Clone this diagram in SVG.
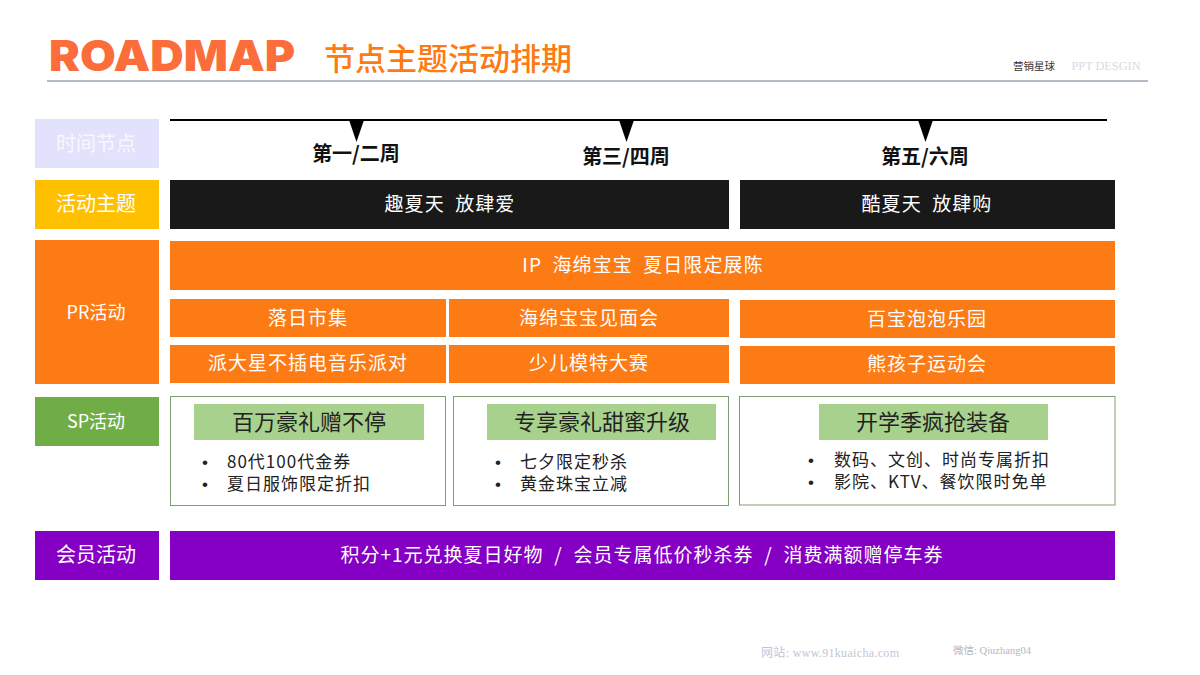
<svg xmlns="http://www.w3.org/2000/svg" width="1200" height="675" viewBox="0 0 1200 675">
<style>
text{font-family:"Noto Sans CJK SC","Noto Sans",sans-serif;text-anchor:middle}
.w{fill:#fff;font-size:19px;letter-spacing:1px}
.t{font-size:19px;letter-spacing:1.100px;word-spacing:5px}
.lab{fill:#fff;font-size:20px}
.wk{fill:#111;font-size:20px;font-weight:700}
.o{fill:#fd7b14}.k{fill:#191919}
.box{fill:#fff;stroke:#7f9f72;stroke-width:1}
.hd{fill:#a9d18e}
.ht{fill:#222;font-size:22px}
.li{fill:#222;font-size:17px;text-anchor:start;letter-spacing:1px}
.bu{font-family:"Liberation Sans",sans-serif;font-size:17px;letter-spacing:0}
</style>
<rect width="1200" height="675" fill="#fff"/>
<g id="header">
<text x="172" y="71" style="font-family:'Inter','Liberation Sans',sans-serif;font-weight:900;font-size:43px" fill="#fb6d3a" textLength="246" lengthAdjust="spacingAndGlyphs">ROADMAP</text>
<text x="448" y="70" font-size="31" fill="#fd7b14" font-weight="500">节点主题活动排期</text>
<line x1="47" y1="81" x2="1148" y2="81" stroke="#98a4b0" stroke-width="1.500"/>
<text x="1034" y="70" font-size="10.500" fill="#333" style="font-family:'Noto Sans CJK SC',serif">营销星球</text>
<text x="1106" y="70" font-size="13" fill="#d8dae6" style="font-family:'Liberation Serif',serif" textLength="69" lengthAdjust="spacingAndGlyphs">PPT DESGIN</text>
</g>
<g id="connectors">
<line x1="170" y1="120" x2="1107" y2="120" stroke="#000" stroke-width="2"/>
<polygon points="349,120 364,120 356.500,142" fill="#000"/>
<polygon points="619,120 634,120 626.500,142" fill="#000"/>
<polygon points="918,120 933,120 925.500,142" fill="#000"/>
</g>
<g id="n-time"><rect x="35" y="119" width="124" height="49" fill="#e2e2fd"/><text class="lab" x="96" y="151" style="opacity:.75">时间节点</text></g>
<g id="n-week1"><text class="wk" x="356" y="161">第一/二周</text></g>
<g id="n-week3"><text class="wk" x="626" y="164">第三/四周</text></g>
<g id="n-week5"><text class="wk" x="925" y="164">第五/六周</text></g>
<g id="n-theme"><rect x="35" y="180" width="124" height="49" fill="#ffc000"/><text class="lab" x="96" y="211">活动主题</text></g>
<g id="n-theme1"><rect class="k" x="170" y="180" width="559" height="49"/><text class="w t" x="450" y="211">趣夏天 放肆爱</text></g>
<g id="n-theme2"><rect class="k" x="740" y="180" width="375" height="49"/><text class="w t" x="927" y="211">酷夏天 放肆购</text></g>
<g id="n-pr"><rect class="o" x="35" y="240" width="124" height="144"/><text class="lab" x="96" y="319" style="font-size:18px">PR活动</text></g>
<g id="n-ip"><rect class="o" x="170" y="241" width="945" height="49"/><text class="w t" x="643" y="272">IP 海绵宝宝 夏日限定展陈</text></g>
<g id="n-a1"><rect class="o" x="170" y="299" width="276" height="38"/><text class="w" x="308" y="325">落日市集</text></g>
<g id="n-a2"><rect class="o" x="449" y="299" width="280" height="38"/><text class="w" x="589" y="325">海绵宝宝见面会</text></g>
<g id="n-a3"><rect class="o" x="740" y="300" width="375" height="38"/><text class="w" x="927" y="326">百宝泡泡乐园</text></g>
<g id="n-a4"><rect class="o" x="170" y="345" width="276" height="38"/><text class="w" x="308" y="370">派大星不插电音乐派对</text></g>
<g id="n-a5"><rect class="o" x="449" y="345" width="280" height="38"/><text class="w" x="589" y="370">少儿模特大赛</text></g>
<g id="n-a6"><rect class="o" x="740" y="346" width="375" height="38"/><text class="w" x="927" y="371">熊孩子运动会</text></g>
<g id="n-sp"><rect x="35" y="397" width="124" height="49" fill="#70ad47"/><text class="lab" x="96" y="428" style="font-size:18px">SP活动</text></g>
<g id="n-sp1"><rect class="box" x="170.500" y="396.500" width="275" height="109"/><rect class="hd" x="194" y="404" width="230" height="36"/><text class="ht" x="309" y="430">百万豪礼赠不停</text>
<text class="li"><tspan class="bu" x="202" y="468">•</tspan><tspan x="227" y="468">80代100代金券</tspan><tspan class="bu" x="202" y="490">•</tspan><tspan x="227" y="490">夏日服饰限定折扣</tspan></text></g>
<g id="n-sp2"><rect class="box" x="453.500" y="396.500" width="275" height="109"/><rect class="hd" x="487" y="404" width="229" height="36"/><text class="ht" x="602" y="430">专享豪礼甜蜜升级</text>
<text class="li"><tspan class="bu" x="495" y="468">•</tspan><tspan x="520" y="468">七夕限定秒杀</tspan><tspan class="bu" x="495" y="490">•</tspan><tspan x="520" y="490">黄金珠宝立减</tspan></text></g>
<g id="n-sp3"><rect class="box" x="739.500" y="396.500" width="375.500" height="108.500"/><rect class="hd" x="819" y="404" width="229" height="36"/><text class="ht" x="933" y="430">开学季疯抢装备</text>
<text class="li"><tspan class="bu" x="808" y="466">•</tspan><tspan x="834" y="466">数码、文创、时尚专属折扣</tspan><tspan class="bu" x="808" y="488">•</tspan><tspan x="834" y="488">影院、KTV、餐饮限时免单</tspan></text></g>
<g id="n-vip"><rect x="35" y="531" width="124" height="49" fill="#8500c4"/><text class="lab" x="96" y="562">会员活动</text></g>
<g id="n-vip1"><rect x="170" y="531" width="945" height="49" fill="#8500c4"/><text class="w t" x="642" y="562" style="font-size:19px;letter-spacing:1px;word-spacing:5.500px">积分+1元兑换夏日好物 / 会员专属低价秒杀券 / 消费满额赠停车券</text></g>
<g id="footer" style="opacity:.9">
<text x="830" y="657" font-size="12" fill="#b9c2d2" style="font-family:'Liberation Serif','Noto Sans CJK SC',serif" textLength="138" lengthAdjust="spacing">网站: www.91kuaicha.com</text>
<text x="992" y="654" font-size="10.500" fill="#b0b0b8" style="font-family:'Liberation Serif','Noto Sans CJK SC',serif">微信: Qiuzhang04</text>
</g>
</svg>
